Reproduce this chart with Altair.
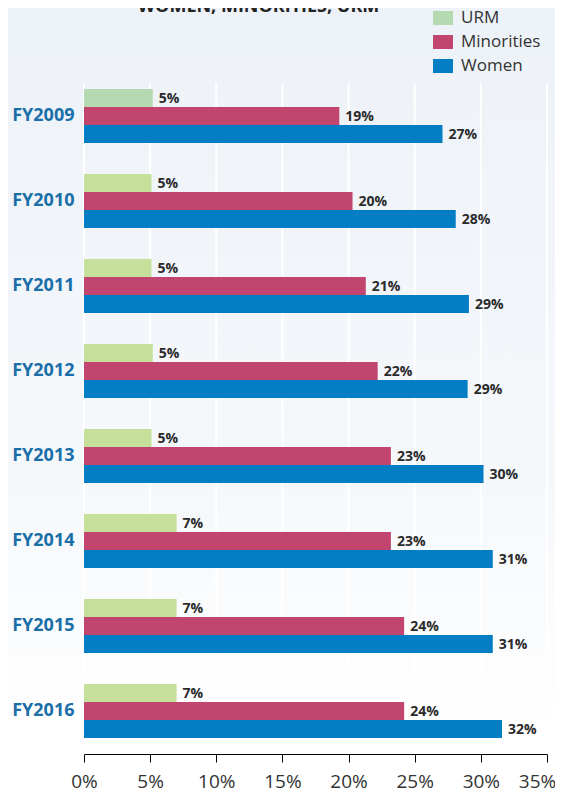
import altair as alt
import pandas as pd

years = ["FY2009", "FY2010", "FY2011", "FY2012", "FY2013", "FY2014", "FY2015", "FY2016"]
series = ["URM", "Minorities", "Women"]
urm = [5.2, 5.1, 5.1, 5.2, 5.1, 7.0, 7.0, 7.0]
minorities = [19.3, 20.3, 21.3, 22.2, 23.2, 23.2, 24.2, 24.2]
women = [27.1, 28.1, 29.1, 29.0, 30.2, 30.9, 30.9, 31.6]
ticks = [0, 5, 10, 15, 20, 25, 30, 35]
colors = ["#b5dab1", "#c1456f", "#037dc3"]
title_text = "WOMEN, MINORITIES, URM"

rows = []
for name, vals in zip(series, [urm, minorities, women]):
    for y, v in zip(years, vals):
        rows.append({"year": y, "series": name, "value": v, "label": f"{round(v)}%"})
df = pd.DataFrame(rows)
tick_df = pd.DataFrame({"t": ticks})

W, H = 463, 681
PAD = {"left": 76, "top": 65, "right": 8, "bottom": 34}
FONT = "Open Sans"

xscale = alt.Scale(domain=[0, 35], nice=False, zero=True)
yscale = alt.Scale(domain=years, paddingInner=0.365, paddingOuter=0.188)

bg = alt.Chart(pd.DataFrame({"a": [0]})).mark_rect(
    fill={
        "gradient": "linear",
        "x1": 0, "y1": 0, "x2": 0, "y2": 1,
        "stops": [
            {"offset": 0, "color": "#edf2f8"},
            {"offset": 0.6, "color": "#f5f8fb"},
            {"offset": 0.93, "color": "#ffffff"},
        ],
    }
).encode(
    x=alt.value(-PAD["left"]), x2=alt.value(W + PAD["right"]),
    y=alt.value(-PAD["top"]), y2=alt.value(H + PAD["bottom"]),
)

grid = alt.Chart(tick_df).mark_rule(color="white", strokeWidth=2).encode(
    x=alt.X("t:Q", scale=xscale,
            axis=alt.Axis(values=ticks, labelExpr="datum.value + '%'", title=None,
                          grid=False, domainColor="#000", domainWidth=1,
                          tickColor="#000", tickSize=8, tickWidth=1,
                          labelFontSize=19, labelColor="#333333", labelFont=FONT,
                          labelPadding=10, labelFlush=False, labelAlign="center",
                          labelOffset={"condition": {"test": "datum.value == 35", "value": -10},
                                       "value": 0},
                          zindex=1)),
    y=alt.value(10), y2=alt.value(H),
)

bars = alt.Chart(df).mark_bar(size=18).encode(
    y=alt.Y("year:N", scale=yscale, sort=years,
            axis=alt.Axis(title=None, domain=False, ticks=False, labelFontSize=18,
                          labelFontWeight="bold", labelColor="#1a6fa8", labelFont=FONT,
                          labelPadding=10, zindex=1)),
    yOffset=alt.YOffset("series:N", sort=series, scale=alt.Scale(paddingInner=0, paddingOuter=0)),
    x=alt.X("value:Q", scale=xscale),
    color=alt.condition(
        "datum.series == 'URM' && datum.year != 'FY2009'",
        alt.value("#c4e09b"),
        alt.Color("series:N", scale=alt.Scale(domain=series, range=colors),
                  legend=alt.Legend(title=None, orient="none", legendX=349, legendY=-65,
                                    symbolType="M-1,-0.7H1V0.7H-1Z", symbolSize=400,
                                    symbolStrokeWidth=0, labelFontSize=17,
                                    labelColor="#333333", labelFont=FONT, labelOffset=8,
                                    rowPadding=6, padding=0)),
    ),
)

labels = alt.Chart(df).mark_text(
    align="left", baseline="middle", dx=6, dy=1, fontWeight="bold",
    fontSize=14, color="#2b2b2b", font=FONT,
).encode(
    y=alt.Y("year:N", scale=yscale, sort=years),
    yOffset=alt.YOffset("series:N", sort=series),
    x=alt.X("value:Q", scale=xscale),
    text="label:N",
)

chart = alt.layer(bg, grid, bars, labels).properties(
    width=W, height=H,
    title=alt.TitleParams(title_text, anchor="middle", dx=-57, fontSize=18,
                          fontWeight="bold", color="#222222", font=FONT, offset=-8),
    autosize=alt.AutoSizeParams(type="none"),
    padding=PAD,
).configure_view(stroke=None).configure(background="white")

chart.save("out.html", embed_options={"renderer": "svg", "actions": False})
